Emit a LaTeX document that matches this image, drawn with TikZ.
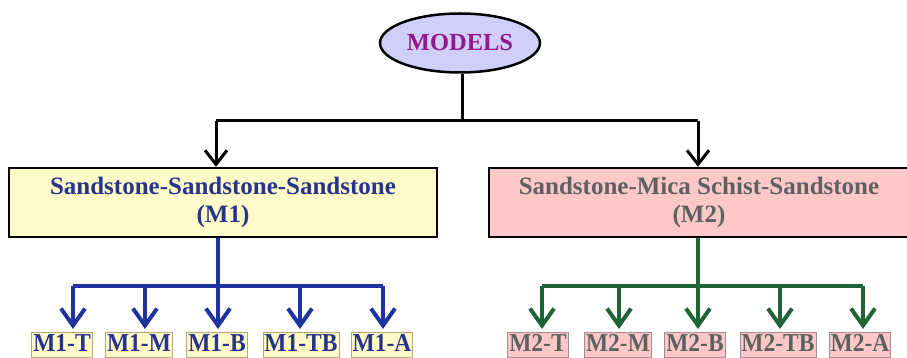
\documentclass[tikz,border=0pt]{standalone}
\usepackage{fontspec}
\setmainfont{Liberation Serif}
\usetikzlibrary{arrows.meta,shapes.geometric}
\definecolor{ellfill}{RGB}{208,206,250}
\definecolor{modtext}{RGB}{145,25,140}
\definecolor{yelbox}{RGB}{255,251,200}
\definecolor{pinkbox}{RGB}{255,200,200}
\definecolor{bluetext}{RGB}{40,52,140}
\definecolor{graytext}{RGB}{92,98,96}
\definecolor{blueline}{RGB}{30,50,160}
\definecolor{greenline}{RGB}{30,100,55}
\definecolor{yelborder}{RGB}{175,170,120}
\definecolor{pinkborder}{RGB}{165,140,140}
\begin{document}
\begin{tikzpicture}[x=1pt,y=-1pt,
  bigbox/.style={draw=black,line width=2.5pt,rectangle,inner sep=0pt,align=center,
    font=\fontsize{25}{28}\selectfont\bfseries},
  lbl/.style={draw,line width=0.8pt,rectangle,inner sep=1.5pt,anchor=north,
    text height=18pt,text depth=4pt,
    font=\fontsize{23.5}{26}\selectfont\bfseries},
  lbl1/.style={lbl,fill=yelbox,draw=yelborder,text=bluetext},
  lbl2/.style={lbl,fill=pinkbox,draw=pinkborder,text=graytext},
  blk/.style={draw=black,line width=3pt},
  blkarr/.style={blk,-{Straight Barb[length=14pt,width=22pt,line width=3pt]}},
  bl/.style={draw=blueline,line width=4pt},
  blarr/.style={bl,-{Straight Barb[length=17pt,width=24pt,line width=4pt]}},
  gr/.style={draw=greenline,line width=4pt},
  grarr/.style={gr,-{Straight Barb[length=17pt,width=24pt,line width=4pt]}}]
\useasboundingbox (0,0) rectangle (907,358);

\node[ellipse,draw=black,line width=2.5pt,fill=ellfill,minimum width=160pt,minimum height=59pt,
  inner sep=0pt,text=modtext,font=\fontsize{24.5}{26}\selectfont\bfseries] (models) at (460,43) {MODELS};

\node[bigbox,fill=yelbox,text=bluetext,minimum width=428pt,minimum height=69pt] (m1) at (223,202.5)
  {Sandstone-Sandstone-Sandstone\\(M1)};
\node[bigbox,fill=pinkbox,text=graytext,minimum width=420pt,minimum height=69pt] (m2) at (699,202.5)
  {Sandstone-Mica Schist-Sandstone\\(M2)};

% labels
\node[lbl1] (a1) at (62,332) {\scalebox{1}[1.1]{M1-T}};
\node[lbl1] (a2) at (139,332) {\scalebox{1}[1.1]{M1-M}};
\node[lbl1] (a3) at (217,332) {\scalebox{1}[1.1]{M1-B}};
\node[lbl1] (a4) at (301,332) {\scalebox{1}[1.1]{M1-TB}};
\node[lbl1] (a5) at (382,332) {\scalebox{1}[1.1]{M1-A}};
\node[lbl2] (b1) at (538,332) {\scalebox{1}[1.1]{M2-T}};
\node[lbl2] (b2) at (618,332) {\scalebox{1}[1.1]{M2-M}};
\node[lbl2] (b3) at (695,332) {\scalebox{1}[1.1]{M2-B}};
\node[lbl2] (b4) at (778,332) {\scalebox{1}[1.1]{M2-TB}};
\node[lbl2] (b5) at (860,332) {\scalebox{1}[1.1]{M2-A}};

% black connectors
\coordinate (tj) at (462,121);
\coordinate (tl) at (216,121);
\coordinate (tr) at (698,121);
\draw[blk] (models.south -| tj) -- (tj);
\draw[blk] (tl) -- (tr);
\draw[blkarr] (tl) -- (tl |- m1.north);
\draw[blkarr] (tr) -- (tr |- m2.north);

% blue connectors
\coordinate (bj) at (218,286);
\coordinate (bl1) at (73,286);
\coordinate (bl2) at (145,286);
\coordinate (bl4) at (300,286);
\coordinate (bl5) at (383,286);
\draw[bl] (m1.south -| bj) -- (bj);
\draw[bl] (bl1) -- (bl5);
\draw[blarr,shorten >=3pt] (bl1) -- (bl1 |- a1.north);
\draw[blarr,shorten >=3pt] (bl2) -- (bl2 |- a2.north);
\draw[blarr,shorten >=3pt] (bj) -- (bj |- a3.north);
\draw[blarr,shorten >=3pt] (bl4) -- (bl4 |- a4.north);
\draw[blarr,shorten >=3pt] (bl5) -- (bl5 |- a5.north);

% green connectors
\coordinate (gj) at (698,286);
\coordinate (gl1) at (542,286);
\coordinate (gl2) at (619,286);
\coordinate (gl4) at (780,286);
\coordinate (gl5) at (863,286);
\draw[gr] (m2.south -| gj) -- (gj);
\draw[gr] (gl1) -- (gl5);
\draw[grarr,shorten >=3pt] (gl1) -- (gl1 |- b1.north);
\draw[grarr,shorten >=3pt] (gl2) -- (gl2 |- b2.north);
\draw[grarr,shorten >=3pt] (gj) -- (gj |- b3.north);
\draw[grarr,shorten >=3pt] (gl4) -- (gl4 |- b4.north);
\draw[grarr,shorten >=3pt] (gl5) -- (gl5 |- b5.north);
\end{tikzpicture}
\end{document}
